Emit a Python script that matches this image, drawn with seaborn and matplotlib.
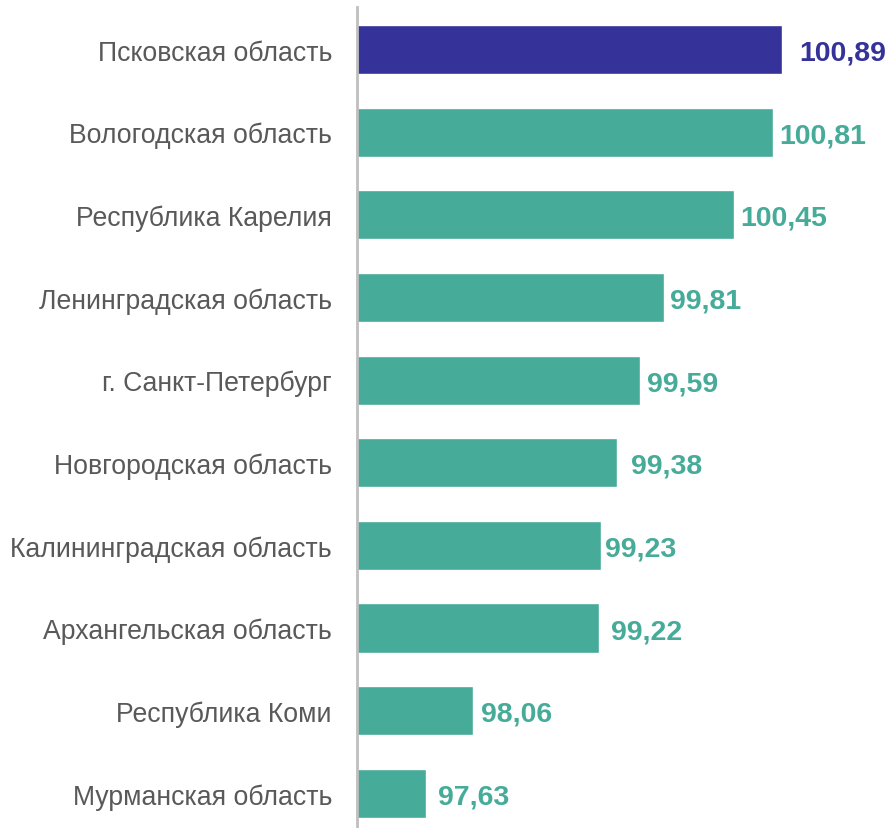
import matplotlib
matplotlib.use("Agg")
import matplotlib.pyplot as plt
import pandas as pd
import seaborn as sns

# %% data
regions = [
    "Псковская область",
    "Вологодская область",
    "Республика Карелия",
    "Ленинградская область",
    "г. Санкт-Петербург",
    "Новгородская область",
    "Калининградская область",
    "Архангельская область",
    "Республика Коми",
    "Мурманская область",
]
values = [100.89, 100.81, 100.45, 99.81, 99.59, 99.38, 99.23, 99.22, 98.06, 97.63]
labels = ["100,89", "100,81", "100,45", "99,81", "99,59", "99,38", "99,23", "99,22", "98,06", "97,63"]

# gap between bar end and value label, in axis units
label_gap = [0.16, 0.06, 0.06, 0.06, 0.07, 0.13, 0.04, 0.11, 0.08, 0.11]

teal = "#46AB98"
navy = "#35329A"

df = pd.DataFrame({"region": regions, "value": values})
palette = {r: (navy if i == 0 else teal) for i, r in enumerate(regions)}

# %% plot
sns.set_style("white")
plt.rcParams["font.family"] = ["Liberation Sans", "DejaVu Sans"]

fig = plt.figure(figsize=(8.91, 8.29), dpi=100)
ax = fig.add_axes([357 / 891, 0, 1 - 357 / 891, 1 - 8 / 829])

sns.barplot(
    data=df, y="region", x="value", hue="region", palette=palette,
    orient="h", width=0.595, legend=False, ax=ax, saturation=1,
)

ax.set_xlim(97.0, 101.89)
ax.set_ylim(9.42, -0.515)

for i, (v, lab) in enumerate(zip(values, labels)):
    ax.text(v + label_gap[i], i, lab, va="center_baseline", ha="left",
            fontsize=20.5, fontweight="bold", color=navy if i == 0 else teal)

for s in ["top", "right", "bottom"]:
    ax.spines[s].set_visible(False)
ax.spines["left"].set_color("#BFBFBF")
ax.spines["left"].set_linewidth(2)

ax.set_xticks([])
ax.set_xlabel("")
ax.set_ylabel("")
ax.tick_params(axis="y", length=0, pad=18, labelsize=19.2, labelcolor="#595959")

fig.savefig("out.png", dpi=100)
